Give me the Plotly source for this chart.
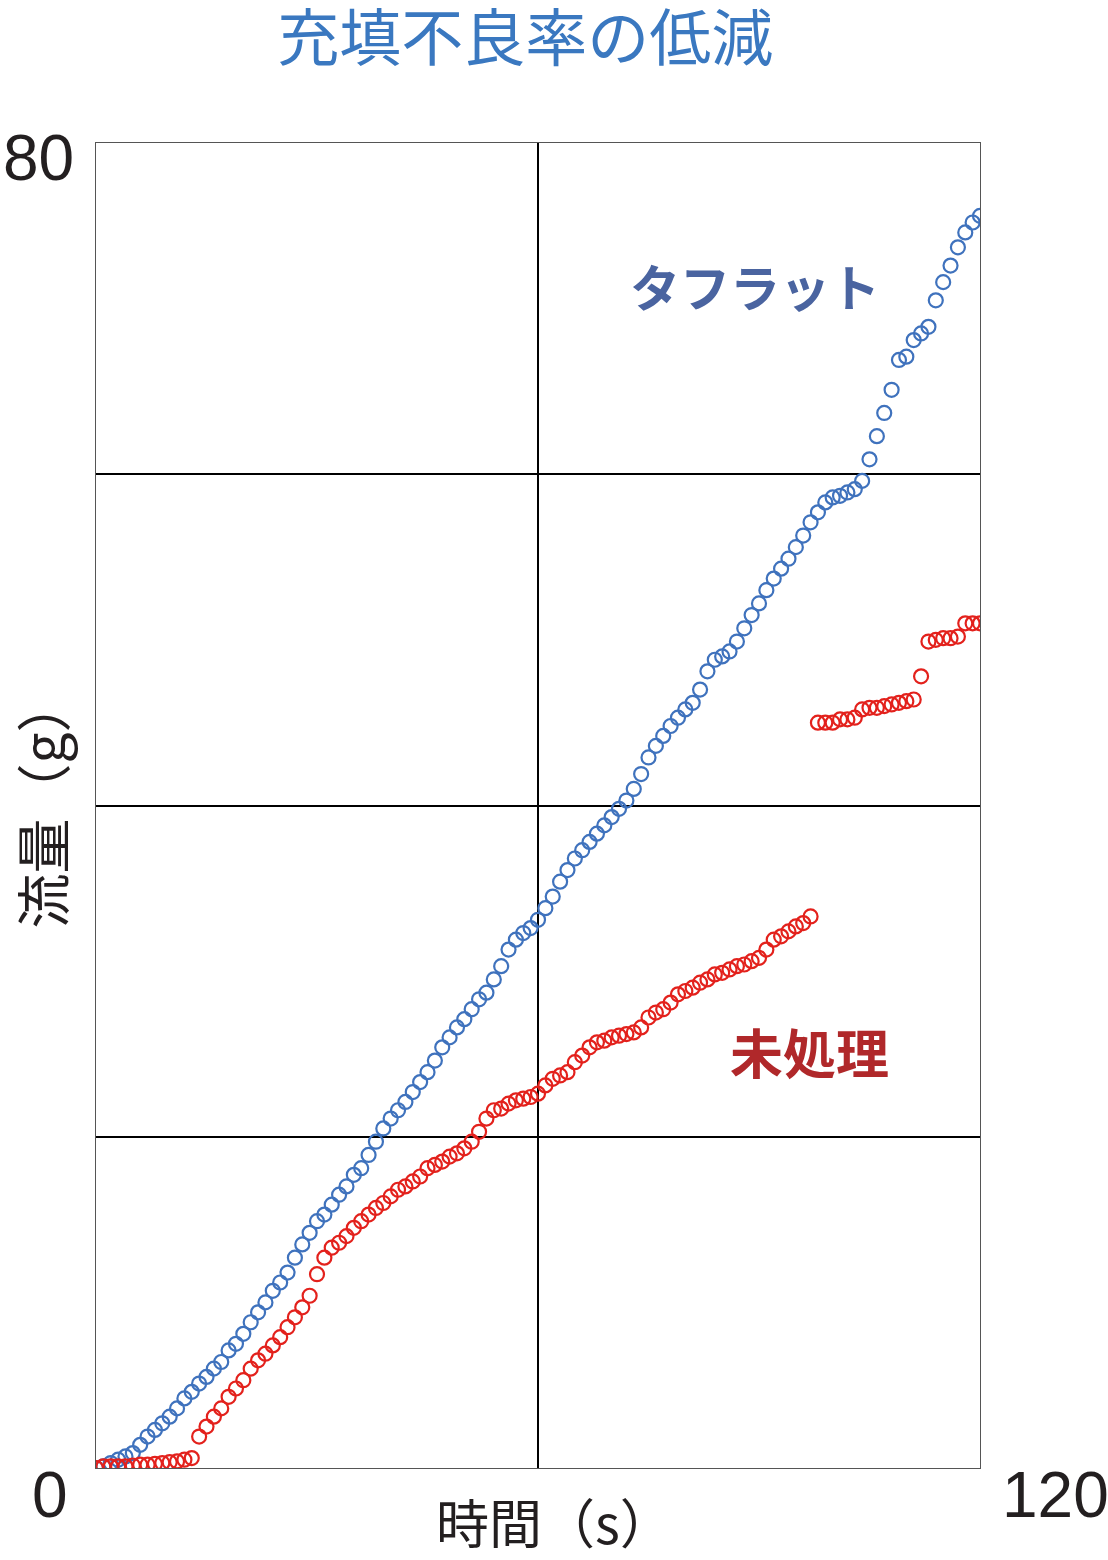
import plotly.graph_objects as go

# 時間 (s)
time_s = [
    0, 1, 2, 3, 4, 5, 6, 7, 8, 9, 10, 11, 12, 13, 14, 15, 16, 17, 18, 19,
    20, 21, 22, 23, 24, 25, 26, 27, 28, 29, 30, 31, 32, 33, 34, 35, 36, 37, 38, 39,
    40, 41, 42, 43, 44, 45, 46, 47, 48, 49, 50, 51, 52, 53, 54, 55, 56, 57, 58, 59,
    60, 61, 62, 63, 64, 65, 66, 67, 68, 69, 70, 71, 72, 73, 74, 75, 76, 77, 78, 79,
    80, 81, 82, 83, 84, 85, 86, 87, 88, 89, 90, 91, 92, 93, 94, 95, 96, 97, 98, 99,
    100, 101, 102, 103, 104, 105, 106, 107, 108, 109, 110, 111, 112, 113, 114, 115,
    116, 117, 118, 119, 120,
]

# タフラット 流量 (g)
flow_tuflat = [
    0.0, 0.1, 0.3, 0.5, 0.7, 0.9, 1.4, 1.9, 2.3, 2.7,
    3.1, 3.6, 4.2, 4.6, 5.1, 5.5, 6.0, 6.4, 7.1, 7.5,
    8.1, 8.8, 9.4, 10.0, 10.7, 11.2, 11.8, 12.7, 13.5, 14.2,
    14.9, 15.3, 15.9, 16.5, 17.0, 17.7, 18.1, 18.9, 19.7, 20.5,
    21.1, 21.6, 22.1, 22.7, 23.3, 23.9, 24.6, 25.4, 26.0, 26.6,
    27.1, 27.7, 28.3, 28.7, 29.5, 30.3, 31.3, 31.9, 32.3, 32.6,
    33.1, 33.8, 34.5, 35.4, 36.1, 36.8, 37.3, 37.8, 38.3, 38.8,
    39.3, 39.8, 40.3, 41.0, 41.9, 42.9, 43.6, 44.2, 44.8, 45.3,
    45.8, 46.2, 47.0, 48.1, 48.8, 49.0, 49.3, 49.9, 50.7, 51.5,
    52.2, 53.0, 53.7, 54.3, 54.9, 55.6, 56.3, 57.1, 57.7, 58.3,
    58.6, 58.7, 58.9, 59.1, 59.6, 60.9, 62.3, 63.7, 65.1, 66.9,
    67.1, 68.1, 68.5, 68.9, 70.5, 71.6, 72.6, 73.7, 74.6, 75.2,
    75.6,
]

# 未処理 流量 (g)
flow_untreated = [
    0.0, 0.1, 0.1, 0.1, 0.1, 0.15, 0.2, 0.2, 0.25, 0.3,
    0.35, 0.4, 0.5, 0.6, 1.9, 2.5, 3.1, 3.6, 4.3, 4.8,
    5.3, 6.0, 6.5, 6.9, 7.4, 7.9, 8.5, 9.1, 9.7, 10.4,
    11.7, 12.7, 13.3, 13.6, 14.0, 14.5, 14.9, 15.3, 15.7, 16.0,
    16.4, 16.8, 17.0, 17.3, 17.6, 18.1, 18.3, 18.5, 18.8, 19.0,
    19.3, 19.7, 20.3, 21.1, 21.6, 21.7, 22.0, 22.2, 22.3, 22.4,
    22.6, 23.1, 23.5, 23.7, 23.9, 24.5, 24.9, 25.4, 25.7, 25.8,
    26.0, 26.1, 26.2, 26.3, 26.6, 27.2, 27.5, 27.7, 28.1, 28.6,
    28.8, 29.0, 29.3, 29.5, 29.8, 29.9, 30.1, 30.3, 30.4, 30.6,
    30.8, 31.3, 31.9, 32.1, 32.4, 32.7, 32.9, 33.3, 45.0, 45.0,
    45.0, 45.2, 45.2, 45.3, 45.8, 45.9, 45.9, 46.0, 46.1, 46.2,
    46.3, 46.4, 47.8, 49.9, 50.0, 50.1, 50.1, 50.2, 51.0, 51.0,
    51.0,
]

jp_font = "Noto Sans CJK JP"
text_color = "#231f20"

fig = go.Figure()

fig.add_trace(go.Scatter(
    x=time_s, y=flow_tuflat,
    mode="markers",
    name="タフラット",
    marker=dict(symbol="circle-open", size=14, color="#3f72bd",
                line=dict(width=2.2, color="#3f72bd")),
))

fig.add_trace(go.Scatter(
    x=time_s, y=flow_untreated,
    mode="markers",
    name="未処理",
    marker=dict(symbol="circle-open", size=14, color="#e3211c",
                line=dict(width=2.2, color="#e3211c")),
))

# 系列ラベル
fig.add_annotation(x=89.5, y=71.4, xref="x", yref="y", text="<b>タフラット</b>",
                   showarrow=False, font=dict(family=jp_font, size=50, color="#4a64a0"))
fig.add_annotation(x=96.9, y=25.2, xref="x", yref="y", text="<b>未処理</b>",
                   showarrow=False, font=dict(family=jp_font, size=53, color="#b0282a"))

# 軸の端の数値
num_font = dict(family="Liberation Sans, Arial", size=64, color=text_color)
fig.add_annotation(x=0, y=0, xref="x", yref="y", text="0", showarrow=False,
                   xshift=-46, yshift=-27, font=num_font)
fig.add_annotation(x=0, y=80, xref="x", yref="y", text="80", showarrow=False,
                   xshift=-58, yshift=-15, font=num_font)
fig.add_annotation(x=120, y=0, xref="x", yref="y", text="120", showarrow=False,
                   xshift=75, yshift=-27, font=num_font)

# 軸タイトル
fig.add_annotation(x=0.5, y=0, xref="paper", yref="paper", text="時間（s）",
                   showarrow=False, xanchor="center", yanchor="middle",
                   xshift=16, yshift=-53,
                   font=dict(family=jp_font, size=53, color=text_color))
fig.add_annotation(x=0, y=0.5, xref="paper", yref="paper", text="流量（g）",
                   showarrow=False, textangle=-90, xanchor="center", yanchor="middle",
                   xshift=-57, yshift=2,
                   font=dict(family=jp_font, size=55, color=text_color))

fig.update_layout(
    title=dict(text="充填不良率の低減", x=0.474, xref="container", xanchor="center",
               y=0.9745, yref="container", yanchor="middle",
               font=dict(family=jp_font, size=62, color="#3a78c0")),
    width=1108,
    height=1560,
    margin=dict(l=96, r=128, t=143, b=92),
    plot_bgcolor="white",
    paper_bgcolor="white",
    showlegend=False,
    hovermode="closest",
)

fig.update_xaxes(
    range=[0, 120], tickmode="array", tickvals=[60], showticklabels=False, ticks="",
    showgrid=True, gridcolor="black", gridwidth=2, zeroline=False,
    showline=True, linecolor="#555555", linewidth=1, mirror=True,
    automargin=False,
)
fig.update_yaxes(
    range=[0, 80], tickmode="array", tickvals=[20, 40, 60], showticklabels=False, ticks="",
    showgrid=True, gridcolor="black", gridwidth=2, zeroline=False,
    showline=True, linecolor="#555555", linewidth=1, mirror=True,
    automargin=False,
)

fig.write_html("out.html", config={"displayModeBar": False},
               post_script="document.body.style.margin='0';")
